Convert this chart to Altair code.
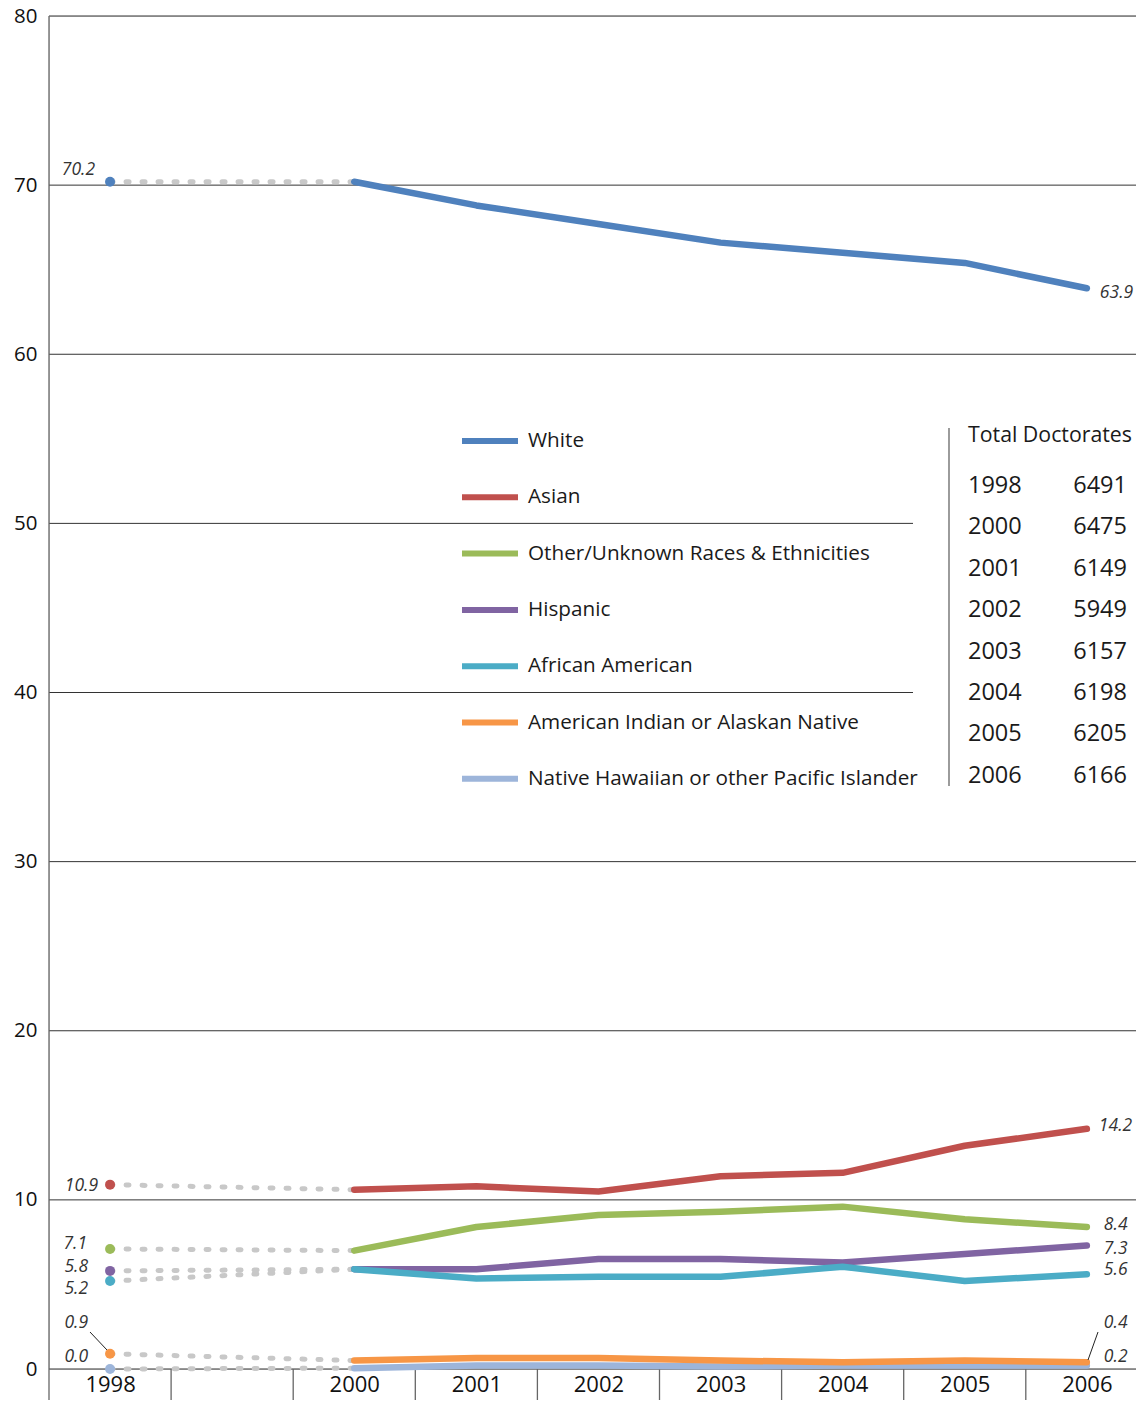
import altair as alt
import pandas as pd

# ---------------- data ----------------
years = ["1998", "", "2000", "2001", "2002", "2003", "2004", "2005", "2006"]
series = [
    "White",
    "Asian",
    "Other/Unknown Races & Ethnicities",
    "Hispanic",
    "African American",
    "American Indian or Alaskan Native",
    "Native Hawaiian or other Pacific Islander",
]
colors = ["#4f81bd", "#c0504d", "#9bbb59", "#8064a2", "#4bacc6", "#f79646", "#9db5da"]

# values for 1998, 2000, 2001, ..., 2006 (percent)
white = [70.2, 70.2, 68.8, 67.7, 66.6, 66.0, 65.4, 63.9]
asian = [10.9, 10.6, 10.8, 10.5, 11.4, 11.6, 13.2, 14.2]
other = [7.1, 7.0, 8.4, 9.1, 9.3, 9.6, 8.85, 8.4]
hispanic = [5.8, 5.9, 5.9, 6.5, 6.5, 6.3, 6.8, 7.3]
african = [5.2, 5.9, 5.35, 5.45, 5.45, 6.05, 5.2, 5.6]
amind = [0.9, 0.5, 0.65, 0.65, 0.5, 0.4, 0.5, 0.4]
pacific = [0.0, 0.05, 0.2, 0.2, 0.15, 0.2, 0.2, 0.2]
values = [white, asian, other, hispanic, african, amind, pacific]

start_labels = ["70.2", "10.9", "7.1", "5.8", "5.2", "0.9", "0.0"]
end_labels = ["63.9", "14.2", "8.4", "7.3", "5.6", "0.4", "0.2"]

total_years = ["1998", "2000", "2001", "2002", "2003", "2004", "2005", "2006"]
total_values = [6491, 6475, 6149, 5949, 6157, 6198, 6205, 6166]
grid_values = [0, 10, 20, 30, 40, 50, 60, 70, 80]

# ---------------- layout helpers ----------------
LEFT, TOP = 49, 16       # page position of plot origin
W, H = 1136 - LEFT, 1353
SVG_H = 1392
X_MIN = -0.5
PXX = 122.1              # pixels per x slot
X_MAX = X_MIN + W / PXX
PXY = H / 80.0           # pixels per y unit


def xd(px):   # page x pixel -> data x
    return X_MIN + (px - LEFT) / PXX


def yd(py):   # page y pixel -> data y
    return 80 - (py - TOP) / PXY


FONT = "Open Sans"
xscale = alt.Scale(domain=[X_MIN, X_MAX], nice=False, zero=False)
yscale = alt.Scale(domain=[0, 80], nice=False)

X = alt.X("x:Q", scale=xscale,
          axis=alt.Axis(values=list(range(9)), grid=False, ticks=False, domain=False,
                        labelExpr="[" + ",".join("'%s'" % y for y in years) + "][datum.value]",
                        labelFont=FONT, labelFontSize=22, labelColor="#111",
                        labelPadding=5, labelBaseline="top", labelFlush=False,
                        labelOverlap=False),
          title=None)
Y = alt.Y("y:Q", scale=yscale,
          axis=alt.Axis(values=grid_values, grid=False, ticks=False, domain=False,
                        labelFont=FONT, labelFontSize=20.5, labelColor="#111",
                        labelPadding=12, labelOverlap=False),
          title=None)

# series rows
rows = []
xs_solid = [2, 3, 4, 5, 6, 7, 8]
for s, vals in zip(series, values):
    for xi, v in zip(xs_solid, vals[1:]):
        rows.append({"series": s, "x": xi, "y": v})
line_df = pd.DataFrame(rows)

conn_rows = []
for s, vals in zip(series, values):
    conn_rows.append({"series": s, "x": 0, "y": vals[0]})
    conn_rows.append({"series": s, "x": 2, "y": vals[1]})
conn_df = pd.DataFrame(conn_rows)

dot_df = pd.DataFrame({"series": series, "x": [0] * 7, "y": [v[0] for v in values]})

# label offsets in pixels (dx, dy) relative to the data point
start_off = [(-15, -12), (-12, 1), (-23, -5), (-22, -4), (-22, 8), (-22, -31), (-22, -12)]
end_off = [(13, 5), (12, -3), (17, -2), (17, 3), (17, -4), (17, -39), (17, -9)]
lab_rows = []
for i, vals in enumerate(values):
    dx, dy = start_off[i]
    lab_rows.append({"t": start_labels[i], "x": 0 + dx / PXX, "y": vals[0] - dy / PXY, "a": "right"})
    dx, dy = end_off[i]
    lab_rows.append({"t": end_labels[i], "x": 8 + dx / PXX, "y": vals[-1] - dy / PXY, "a": "left"})
lab_df = pd.DataFrame(lab_rows)

color_enc = alt.Color(
    "series:N",
    scale=alt.Scale(domain=series, range=colors),
    legend=alt.Legend(
        title=None, orient="none", legendX=410, legendY=394,
        symbolType="stroke", symbolSize=3136, symbolStrokeWidth=6,
        labelFont=FONT, labelFontSize=20.7, labelColor="#1a1a1a",
        labelOffset=7, rowPadding=13.3, labelLimit=700, padding=0,
    ),
)

# gridlines
grid_df = pd.DataFrame({
    "y": grid_values,
    "x": [X_MIN] * len(grid_values),
    "x2": [xd(913) if g in (40, 50) else X_MAX for g in grid_values],
})
grid = alt.Chart(grid_df).mark_rule(color="#333", strokeWidth=1).encode(
    x=X, x2="x2:Q", y=Y)

# category separators below zero line
sep_df = pd.DataFrame({"x": [i + 0.5 for i in range(8)]})
seps = alt.Chart(sep_df).mark_rule(color="#666", strokeWidth=1.3).encode(
    x=X, y=alt.value(H), y2=alt.value(H + 60))

left_line = alt.Chart(pd.DataFrame({"k": [0]})).mark_rule(color="#666", strokeWidth=1.3).encode(
    x=alt.value(0), y=alt.value(0), y2=alt.value(H + 60))

conn = alt.Chart(conn_df).mark_line(color="#c8c8c8", strokeWidth=5, strokeDash=[3, 13],
                                    strokeCap="round").encode(
    x=X, y=Y, detail="series:N")

dots = alt.Chart(dot_df).mark_circle(size=100, opacity=1).encode(
    x=X, y=Y, color=color_enc)

draw_order = [0, 1, 2, 3, 4, 6, 5]
line_layers = []
for i in draw_order:
    base = alt.Chart(line_df).transform_filter(alt.datum.series == series[i])
    line_layers.append(base.mark_line(strokeWidth=6.5, strokeCap="round", strokeJoin="round").encode(
        x=X, y=Y, color=color_enc))

# leader lines for small labels
lead_df = pd.DataFrame({
    "x": [xd(90), xd(1088)], "y": [yd(1332), yd(1360)],
    "x2": [xd(107), xd(1098)], "y2": [yd(1350), yd(1332)],
})
leads = alt.Chart(lead_df).mark_rule(color="#222", strokeWidth=1).encode(
    x=X, y=Y, x2="x2:Q", y2="y2:Q")

labels_l = alt.Chart(lab_df).transform_filter(alt.datum.a == "right").mark_text(
    align="right", baseline="middle", font=FONT, fontSize=17.5, fontStyle="italic", color="#333").encode(
    x=X, y=Y, text="t:N")
labels_r = alt.Chart(lab_df).transform_filter(alt.datum.a == "left").mark_text(
    align="left", baseline="middle", font=FONT, fontSize=17.5, fontStyle="italic", color="#333").encode(
    x=X, y=Y, text="t:N")

# Total doctorates table
tab_rows = [{"t": "Total Doctorates", "x": xd(968), "y": yd(436), "a": "left", "s": 21}]
for r, (yy, vv) in enumerate(zip(total_years, total_values)):
    py = 486 + r * 41.4
    tab_rows.append({"t": yy, "x": xd(968), "y": yd(py), "a": "left", "s": 24})
    tab_rows.append({"t": str(vv), "x": xd(1127), "y": yd(py), "a": "right", "s": 24})
tab_df = pd.DataFrame(tab_rows)
tab_head = alt.Chart(tab_df).transform_filter(alt.datum.s == 21).mark_text(
    align="left", baseline="middle", font=FONT, fontSize=21.3, color="#1a1a1a").encode(
    x=X, y=Y, text="t:N")
tab_left = alt.Chart(tab_df).transform_filter((alt.datum.s == 24) & (alt.datum.a == "left")).mark_text(
    align="left", baseline="middle", font=FONT, fontSize=23.5, color="#1a1a1a").encode(
    x=X, y=Y, text="t:N")
tab_right = alt.Chart(tab_df).transform_filter((alt.datum.s == 24) & (alt.datum.a == "right")).mark_text(
    align="right", baseline="middle", font=FONT, fontSize=23.5, color="#1a1a1a").encode(
    x=X, y=Y, text="t:N")
tab_line = alt.Chart(pd.DataFrame({"x": [xd(949)], "y": [yd(428)], "y2": [yd(786)]})).mark_rule(
    color="#666", strokeWidth=1.3).encode(
    x=X, y=Y, y2="y2:Q")

chart = alt.layer(
    grid, seps, left_line, conn, *line_layers, dots,
    leads, labels_l, labels_r, tab_line, tab_head, tab_left, tab_right,
).properties(
    width=W, height=H,
    padding={"left": LEFT - 8, "top": TOP - 8, "right": 0, "bottom": SVG_H - H - (TOP - 8)},
    autosize=alt.AutoSizeParams(type="none"),
).configure_view(stroke=None).configure(background="white")

chart.save("out.html", embed_options={"renderer": "svg", "actions": False})
